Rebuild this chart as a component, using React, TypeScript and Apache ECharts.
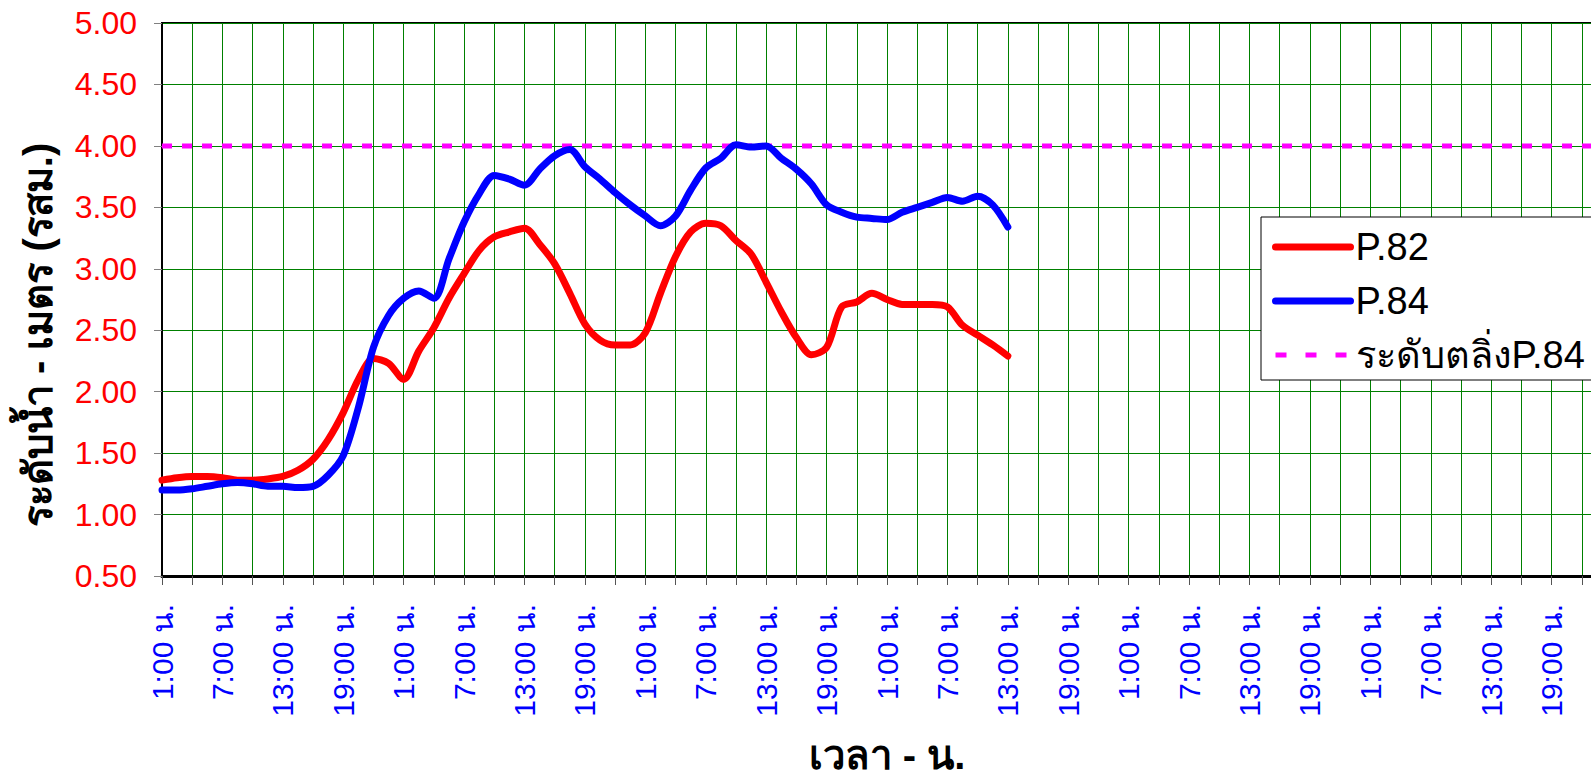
import React, { useEffect, useRef } from "react";
import * as echarts from "echarts";

// hours since 1:00 of the first day
const hours = [
  0, 1.5, 3, 4.5, 6, 7.5, 9, 10.5, 12, 13.5, 15, 16.5, 18, 19.5, 21, 22.5, 24, 25.5, 27, 28.5,
  30, 31.5, 33, 34.5, 36, 37.5, 39, 40.5, 42, 43.5, 45, 46.5, 48, 49.5, 51, 52.5, 54, 55.5, 57, 58.5,
  60, 61.5, 63, 64.5, 66, 67.5, 69, 70.5, 72, 73.5, 75, 76.5, 78, 79.5, 81, 82.5, 84,
];

const p82 = [
  1.28, 1.3, 1.31, 1.31, 1.3, 1.28, 1.28, 1.29, 1.31, 1.36, 1.45, 1.61, 1.83, 2.1, 2.27, 2.23, 2.1, 2.33, 2.52, 2.76,
  2.96, 3.15, 3.26, 3.3, 3.33, 3.2, 3.04, 2.8, 2.55, 2.42, 2.38, 2.38, 2.48, 2.8, 3.1, 3.3, 3.37, 3.35, 3.23, 3.12,
  2.89, 2.65, 2.44, 2.3, 2.36, 2.69, 2.73, 2.8, 2.75, 2.71, 2.71, 2.71, 2.69, 2.54, 2.46, 2.38, 2.29,
];

const p84 = [
  1.2, 1.2, 1.21, 1.23, 1.25, 1.26, 1.25, 1.23, 1.23, 1.22, 1.23, 1.32, 1.48, 1.87, 2.36, 2.62, 2.76, 2.82, 2.76, 3.08,
  3.38, 3.61, 3.76, 3.73, 3.68, 3.81, 3.92, 3.97, 3.83, 3.73, 3.62, 3.52, 3.43, 3.35, 3.43, 3.64, 3.82, 3.9, 4.01, 3.99,
  4.0, 3.9, 3.81, 3.69, 3.52, 3.46, 3.42, 3.41, 3.4, 3.46, 3.5, 3.54, 3.58, 3.55, 3.59, 3.52, 3.34,
];

const bankLevel = 4.0;
const xRange = [0, 144];
const lastLabelHour = 138;
const seriesNames = ["P.82", "P.84", "ระดับตลิ่งP.84"];
const yTitle = "ระดับน้ำ - เมตร (รสม.)";
const xTitle = "เวลา - น.";

const FONT = 'Arial, "Liberation Sans", sans-serif';

export default function App() {
  const ref = useRef<HTMLDivElement>(null);

  useEffect(() => {
    if (!ref.current) return;
    const chart = echarts.init(ref.current, undefined, { renderer: "svg" });
    const d82 = hours.map((h, i) => [h, p82[i]]);
    const d84 = hours.map((h, i) => [h, p84[i]]);
    const dBank = xRange.map((h) => [h, bankLevel]);

    chart.setOption({
      animation: false,
      backgroundColor: "#ffffff",
      grid: {
        left: 162,
        right: 1700 - 1612,
        top: 23,
        bottom: 776 - 576,
        show: true,
        borderColor: "#000",
        borderWidth: 2,
        backgroundColor: "transparent",
      },
      xAxis: {
        type: "value",
        min: xRange[0],
        max: xRange[1],
        interval: 3,
        axisLine: { show: true, lineStyle: { color: "#000", width: 3 } },
        axisTick: { show: true, inside: false, length: 9, lineStyle: { color: "#555", width: 1 } },
        splitLine: { show: true, lineStyle: { color: "#008000", width: 1 } },
        axisLabel: {
          rotate: 90,
          margin: 28,
          color: "#0000FF",
          fontSize: 30,
          fontFamily: FONT,
          showMaxLabel: true,
          showMinLabel: true,
          formatter: (v: number) =>
            v % 6 === 0 && v <= lastLabelHour ? `${(1 + v) % 24}:00 น.` : "",
        },
      },
      yAxis: {
        type: "value",
        min: 0.5,
        max: 5,
        interval: 0.5,
        axisLine: { show: true, lineStyle: { color: "#000", width: 2 } },
        axisTick: { show: true, inside: false, length: 8, lineStyle: { color: "#808080", width: 1 } },
        splitLine: { show: true, lineStyle: { color: "#008000", width: 1 } },
        axisLabel: {
          margin: 25,
          color: "#FF0000",
          fontSize: 32,
          fontFamily: FONT,
          formatter: (v: number) => v.toFixed(2),
        },
      },
      legend: {
        orient: "vertical",
        left: 1261,
        top: 217,
        data: [
          { name: seriesNames[0] },
          { name: seriesNames[1] },
          { name: seriesNames[2], lineStyle: { type: [11, 19], cap: "butt", width: 5 } },
        ],
        backgroundColor: "#fff",
        borderColor: "#000",
        borderWidth: 1,
        padding: [11, 30, 6, 11],
        itemWidth: 75,
        itemHeight: 14,
        itemGap: 16,
        itemStyle: { opacity: 0 },
        lineStyle: { width: 7, cap: "round" },
        textStyle: { fontSize: 38, color: "#000", fontFamily: FONT },
      },
      graphic: [
        {
          type: "text",
          x: 38,
          y: 335,
          rotation: Math.PI / 2,
          style: {
            text: yTitle,
            fill: "#000",
            font: `bold 40px ${FONT}`,
            align: "center",
            verticalAlign: "middle",
          },
        },
        {
          type: "text",
          x: 887,
          y: 755,
          style: {
            text: xTitle,
            fill: "#000",
            font: `bold 40px ${FONT}`,
            align: "center",
            verticalAlign: "middle",
          },
        },
      ],
      series: [
        {
          name: seriesNames[2],
          type: "line",
          data: dBank,
          symbol: "none",
          lineStyle: { color: "#FF00FF", width: 5, type: [10, 10], cap: "butt" },
          itemStyle: { color: "#FF00FF" },
          z: 2,
        },
        {
          name: seriesNames[0],
          type: "line",
          data: d82,
          symbol: "none",
          smooth: 0.3,
          lineStyle: { color: "#FF0000", width: 7, cap: "round", join: "round" },
          itemStyle: { color: "#FF0000" },
          z: 3,
        },
        {
          name: seriesNames[1],
          type: "line",
          data: d84,
          symbol: "none",
          smooth: 0.3,
          lineStyle: { color: "#0000FF", width: 7, cap: "round", join: "round" },
          itemStyle: { color: "#0000FF" },
          z: 4,
        },
      ],
    });

    return () => chart.dispose();
  }, []);

  return (
    <div
      style={{
        position: "fixed",
        left: 0,
        top: 0,
        width: "100vw",
        height: "100vh",
        overflow: "hidden",
        background: "#fff",
      }}
    >
      <div ref={ref} style={{ width: 1700, height: 776 }} />
    </div>
  );
}
